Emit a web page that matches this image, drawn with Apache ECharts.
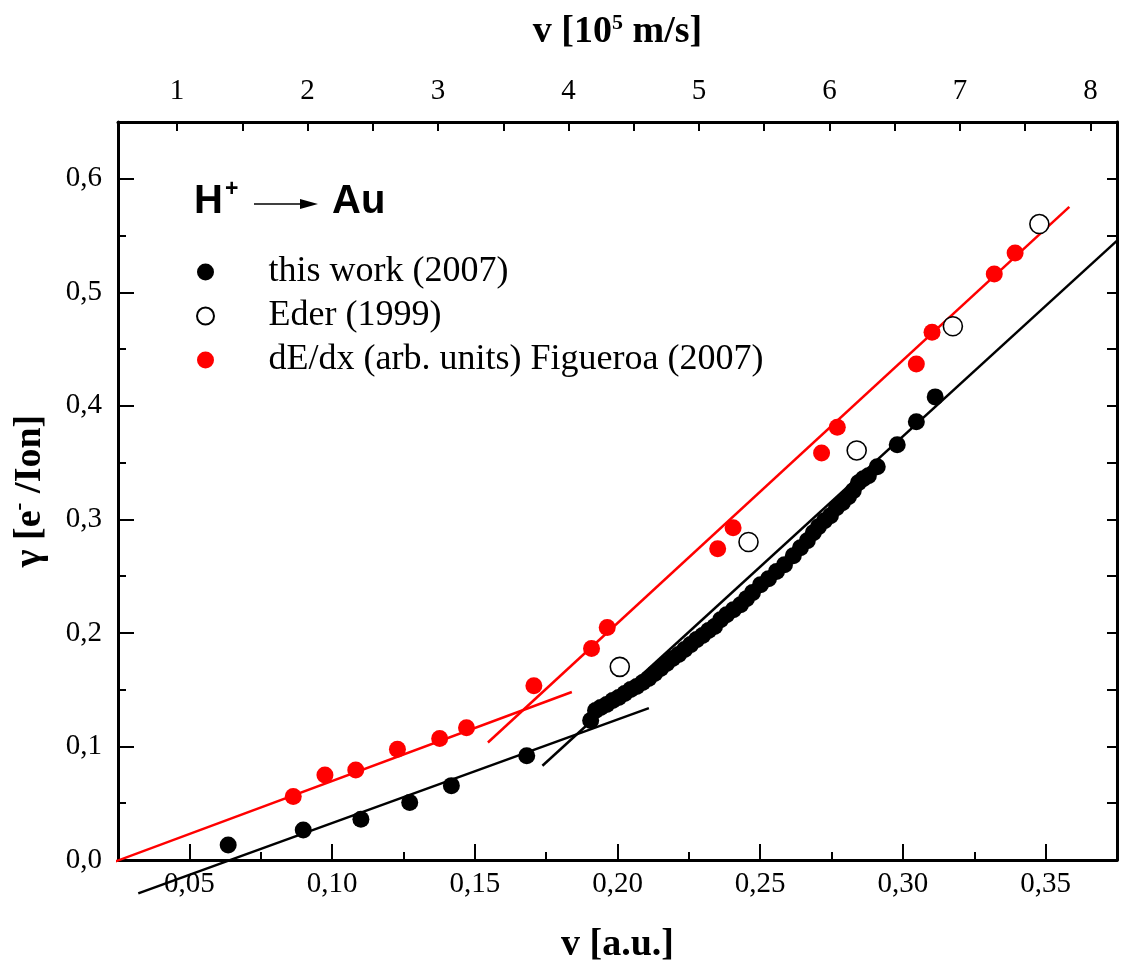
<!DOCTYPE html>
<html>
<head>
<meta charset="utf-8">
<script src="https://cdn.jsdelivr.net/npm/echarts@6/dist/echarts.min.js"></script>
<style>
html,body{margin:0;padding:0;background:#fff;}
#chart{width:1131px;height:969px;}
</style>
</head>
<body>
<div id="chart"></div>
<script>
// ---- data (v in a.u., gamma in electrons/ion) ----
const thisWorkV = [0.0636,0.0899,0.1101,0.1272,0.1418,0.1682,
  0.1906,0.1923,0.1941,0.1962,0.1983,0.2004,0.2025,0.2046,0.2067,0.2088,
  0.2109,0.2130,0.2151,0.2172,0.2193,0.2214,0.2235,0.2256,0.2277,0.2298,
  0.2319,0.2340,0.2361,0.2382,0.2406,0.2431,0.2452,0.2473,0.2501,0.2529,
  0.2557,0.2585,0.2616,0.2641,0.2665,0.2686,0.2704,0.2725,0.2746,0.2767,
  0.2788,0.2809,0.2826,0.2844,0.2861,0.2879,0.2910,0.2980,0.3047,0.3113];
const thisWorkG = [0.0132,0.0264,0.0358,0.0507,0.0655,0.0918,
  0.1229,0.1317,0.1343,0.1370,0.1405,0.1431,0.1466,0.1502,0.1528,0.1563,
  0.1598,0.1642,0.1686,0.1730,0.1774,0.1809,0.1853,0.1897,0.1941,0.1977,
  0.2021,0.2056,0.2117,0.2161,0.2205,0.2249,0.2302,0.2355,0.2425,0.2478,
  0.2540,0.2601,0.2680,0.2751,0.2812,0.2883,0.2935,0.2988,0.3032,0.3103,
  0.3147,0.3199,0.3252,0.3322,0.3358,0.3384,0.3463,0.3657,0.3859,0.4079];

const ederV = [0.2008,0.2459,0.2838,0.3175,0.3478];
const ederG = [0.1701,0.2801,0.3607,0.4701,0.5601];

const figV = [0.0864,0.0975,0.1083,0.1229,0.1377,0.1471,0.1707,0.1909,0.1964,
  0.2351,0.2405,0.2715,0.2770,0.3047,0.3102,0.3320,0.3393];
const figG = [0.0559,0.0749,0.0792,0.0976,0.1071,0.1165,0.1534,0.1862,0.2047,
  0.2742,0.2927,0.3584,0.3812,0.4369,0.4648,0.5161,0.5346];

// straight fit lines (end points)
const fitRedLowV = [0.0233, 0.1840];   const fitRedLowG = [-0.002, 0.148];
const fitRedHighV = [0.1546, 0.3583];  const fitRedHighG = [0.1035, 0.5753];
const fitBlackLowV = [0.0321, 0.2110]; const fitBlackLowG = [-0.0294, 0.1338];
const fitBlackHighV = [0.1737, 0.3784];const fitBlackHighG = [0.0830, 0.5533];

// axes
const xMin = 0.025, xMax = 0.375;
const yMin = 0, yMax = 0.65;
const xMajorTicks = [0.05,0.10,0.15,0.20,0.25,0.30,0.35];
const yMajorTicks = [0,0.1,0.2,0.3,0.4,0.5,0.6];
const auToMs = 21.877; // 1 a.u. of velocity in 10^5 m/s
const topLabels = [1,2,3,4,5,6,7,8];
const topTicks = [1,1.5,2,2.5,3,3.5,4,4.5,5,5.5,6,6.5,7,7.5,8];

const seriesNames = ['this work (2007)','Eder (1999)','dE/dx (arb. units) Figueroa (2007)'];

const zip = (a,b) => a.map((v,i)=>[v,b[i]]);
const SERIF = '"Liberation Serif","Times New Roman",serif';
const SANS = '"Liberation Sans",Arial,sans-serif';
const TICKFS = 29, TITLEFS = 38;

const isMult = (v, step) => Math.abs(v/step - Math.round(v/step)) < 1e-6;
const comma = (v, d) => v.toFixed(d).replace('.', ',');

const chart = echarts.init(document.getElementById('chart'), null, {renderer:'canvas'});

const lineSeries = (v, g, color) => ({
  type:'line', data: zip(v,g), symbol:'none', clip:false, silent:true,
  lineStyle:{color:color, width:2.5}, z:2, xAxisIndex:0, yAxisIndex:0
});

const option = {
  backgroundColor:'#fff',
  animation:false,
  grid:{left:117, right:14, top:122, bottom:107, containLabel:false},
  legend:{
    data: seriesNames, orient:'vertical', left:191, top:247,
    itemWidth:116, itemHeight:17, itemGap:4, selectedMode:false,
    textStyle:{fontFamily:SERIF, fontSize:36, color:'#000', lineHeight:40}
  },
  xAxis:[
    { type:'value', position:'bottom', min:xMin, max:xMax, interval:0.025,
      axisLine:{show:true, onZero:false, lineStyle:{color:'#000', width:3}},
      axisTick:{show:true, inside:true, length:8, lineStyle:{color:'#000', width:2}},
      axisLabel:{show:true, margin:10, color:'#000', fontFamily:SERIF, fontSize:TICKFS,
        formatter:(v)=> (isMult(v,0.05) && v>0.04 && v<0.36) ? comma(v,2) : ''},
      splitLine:{show:false},
      name:'v [a.u.]', nameLocation:'middle', nameGap:66,
      nameTextStyle:{fontFamily:SERIF, fontSize:TITLEFS, fontWeight:'bold', color:'#000'}
    },
    { type:'value', position:'top', min:xMin*auToMs, max:xMax*auToMs,
      axisLine:{show:true, onZero:false, lineStyle:{color:'#000', width:3}},
      axisTick:{show:true, inside:true, length:9, customValues:topTicks, lineStyle:{color:'#000', width:2}},
      axisLabel:{show:true, margin:16, color:'#000', fontFamily:SERIF, fontSize:TICKFS,
        customValues:topLabels, formatter:(v)=>String(Math.round(v))},
      splitLine:{show:false},
      name:'{n|v [10}{s|5}{n| m/s]}', nameLocation:'middle', nameGap:70,
      nameTextStyle:{fontFamily:SERIF, fontSize:TITLEFS, fontWeight:'bold', color:'#000',
        rich:{ n:{fontFamily:SERIF, fontSize:TITLEFS, fontWeight:'bold', color:'#000'},
               s:{fontFamily:SERIF, fontSize:22, fontWeight:'bold', color:'#000', padding:[0,0,18,0]} } }
    },
    { type:'value', position:'bottom', min:xMin, max:xMax,
      axisLine:{show:false},
      axisTick:{show:true, inside:true, length:16, customValues:xMajorTicks, lineStyle:{color:'#000', width:2}},
      axisLabel:{show:false}, splitLine:{show:false}
    }
  ],
  yAxis:[
    { type:'value', position:'left', min:yMin, max:yMax, interval:0.05,
      axisLine:{show:true, onZero:false, lineStyle:{color:'#000', width:3}},
      axisTick:{show:true, inside:true, length:8, lineStyle:{color:'#000', width:2}},
      axisLabel:{show:true, margin:16, color:'#000', fontFamily:SERIF, fontSize:TICKFS,
        formatter:(v)=> (isMult(v,0.1) && v<0.61) ? comma(v,1) : ''},
      splitLine:{show:false},
      name:'{n|γ [e}{s|-}{n| /Ion]}', nameLocation:'middle', nameGap:66, nameRotate:90,
      nameTextStyle:{fontFamily:SERIF, fontSize:TITLEFS, fontWeight:'bold', color:'#000',
        rich:{ n:{fontFamily:SERIF, fontSize:TITLEFS, fontWeight:'bold', color:'#000'},
               s:{fontFamily:SERIF, fontSize:24, fontWeight:'bold', color:'#000', padding:[0,0,20,0]} } }
    },
    { type:'value', position:'right', min:yMin, max:yMax, interval:0.05,
      axisLine:{show:true, onZero:false, lineStyle:{color:'#000', width:3}},
      axisTick:{show:true, inside:true, length:10, lineStyle:{color:'#000', width:2}},
      axisLabel:{show:false}, splitLine:{show:false}
    },
    { type:'value', position:'left', min:yMin, max:yMax,
      axisLine:{show:false},
      axisTick:{show:true, inside:true, length:16, customValues:yMajorTicks, lineStyle:{color:'#000', width:2}},
      axisLabel:{show:false}, splitLine:{show:false}
    }
  ],
  graphic:[
    {type:'text', left:194, top:182, style:{text:'H', font:'bold 40px '+SANS, fill:'#000'}},
    {type:'text', left:225, top:178, style:{text:'+', font:'bold 23px '+SANS, fill:'#000'}},
    {type:'line', shape:{x1:254, y1:204, x2:304, y2:204}, style:{stroke:'#000', lineWidth:1.5}},
    {type:'polygon', shape:{points:[[300,199],[318,204],[300,209]]}, style:{fill:'#000'}},
    {type:'text', left:332, top:182, style:{text:'Au', font:'bold 40px '+SANS, fill:'#000'}}
  ],
  series:[
    lineSeries(fitRedLowV, fitRedLowG, '#ff0000'),
    lineSeries(fitRedHighV, fitRedHighG, '#ff0000'),
    lineSeries(fitBlackLowV, fitBlackLowG, '#000000'),
    lineSeries(fitBlackHighV, fitBlackHighG, '#000000'),
    { name:seriesNames[0], type:'scatter', data:zip(thisWorkV, thisWorkG), symbol:'circle', symbolSize:17,
      itemStyle:{color:'#000', opacity:1}, z:4 },
    { name:seriesNames[1], type:'scatter', data:zip(ederV, ederG), symbol:'circle', symbolSize:19,
      itemStyle:{color:'#fff', borderColor:'#000', borderWidth:1.6, opacity:1}, z:5 },
    { name:seriesNames[2], type:'scatter', data:zip(figV, figG), symbol:'circle', symbolSize:17,
      itemStyle:{color:'#ff0000', opacity:1}, z:4 }
  ]
};
chart.setOption(option);
</script>
</body>
</html>
